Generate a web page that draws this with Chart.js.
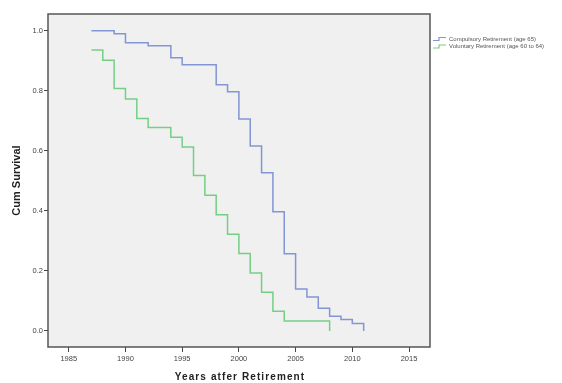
<!DOCTYPE html>
<html>
<head>
<meta charset="utf-8">
<script src="https://cdn.jsdelivr.net/npm/chart.js@4"></script>
<style>
  body { margin: 0; background: #fff; }
  #wrap { width: 562px; height: 383px; }
</style>
</head>
<body>
<div id="wrap"><canvas id="survChart" width="562" height="383"></canvas></div>
<script>
const compYears = [1987, 1989, 1990, 1992, 1994, 1995, 1998, 1999, 2000, 2001, 2002, 2003, 2004, 2005, 2006, 2007, 2008, 2009, 2010, 2011];
const compSurv = [1.0, 0.99, 0.96, 0.95, 0.91, 0.887, 0.82, 0.797, 0.706, 0.616, 0.527, 0.397, 0.257, 0.14, 0.113, 0.076, 0.049, 0.038, 0.025, 0.0];
const volYears = [1987, 1988, 1989, 1990, 1991, 1992, 1994, 1995, 1996, 1997, 1998, 1999, 2000, 2001, 2002, 2003, 2004, 2008];
const volSurv = [0.936, 0.902, 0.808, 0.773, 0.708, 0.678, 0.645, 0.613, 0.518, 0.452, 0.387, 0.322, 0.258, 0.193, 0.129, 0.066, 0.033, 0.0];
const xTicks = [1985, 1990, 1995, 2000, 2005, 2010, 2015];
const yTicks = [0.0, 0.2, 0.4, 0.6, 0.8, 1.0];
const seriesNames = ["Compulsory Retirement (age 65)", "Voluntary Retirement (age 60 to 64)"];
const xTitle = "Years atfer Retirement";

const BLUE = "#8295d4";
const GREEN = "#74cf85";

function toPoints(xs, ys) {
  return xs.map((x, i) => ({ x: x, y: ys[i] }));
}

// grey plot box + frame, like the SPSS output
const plotBox = {
  id: "plotBox",
  beforeDraw(chart) {
    const { ctx, chartArea: a } = chart;
    ctx.save();
    ctx.fillStyle = "#fff";
    ctx.fillRect(0, 0, chart.width, chart.height);
    ctx.fillStyle = "#f0f0f0";
    ctx.fillRect(a.left, a.top, a.right - a.left, a.bottom - a.top);
    ctx.restore();
  },
  afterDraw(chart) {
    const { ctx, chartArea: a } = chart;
    ctx.save();
    ctx.strokeStyle = "#555";
    ctx.lineWidth = 1.5;
    ctx.strokeRect(a.left, a.top, a.right - a.left, a.bottom - a.top);

    // legend with little step icons
    const colors = [BLUE, GREEN];
    ctx.font = "6px 'Liberation Sans', Arial, sans-serif";
    ctx.textBaseline = "middle";
    ctx.textAlign = "left";
    seriesNames.forEach((name, i) => {
      const y = 39 + i * 7.5;
      ctx.strokeStyle = colors[i];
      ctx.lineWidth = 1.2;
      ctx.beginPath();
      ctx.moveTo(433, y + 1.5);
      ctx.lineTo(439, y + 1.5);
      ctx.lineTo(439, y - 1.5);
      ctx.lineTo(446, y - 1.5);
      ctx.stroke();
      ctx.fillStyle = "#555";
      ctx.fillText(name, 449, y);
    });

    // x axis title, spaced out as in the original
    ctx.font = "bold 10px 'Liberation Sans', Arial, sans-serif";
    ctx.letterSpacing = "1.1px";
    ctx.fillStyle = "#222";
    ctx.textAlign = "center";
    ctx.textBaseline = "alphabetic";
    ctx.fillText(xTitle, (a.left + a.right) / 2 + 1, 379.5);
    ctx.restore();
  }
};

const ctx = document.getElementById("survChart").getContext("2d");
new Chart(ctx, {
  type: "line",
  data: {
    datasets: [
      {
        label: seriesNames[0],
        data: toPoints(compYears, compSurv),
        borderColor: BLUE,
        borderWidth: 1.5,
        stepped: true,
        pointRadius: 0,
        fill: false
      },
      {
        label: seriesNames[1],
        data: toPoints(volYears, volSurv),
        borderColor: GREEN,
        borderWidth: 1.5,
        stepped: true,
        pointRadius: 0,
        fill: false
      }
    ]
  },
  options: {
    responsive: false,
    animation: false,
    layout: { padding: { top: 14, right: 132, left: 0, bottom: 0 } },
    plugins: {
      legend: { display: false },
      tooltip: { enabled: false }
    },
    scales: {
      x: {
        type: "linear",
        min: 1983.17,
        max: 2016.85,
        afterFit(scale) { scale.height = 36; },
        afterBuildTicks(scale) { scale.ticks = xTicks.map(v => ({ value: v })); },
        border: { display: false },
        grid: { drawOnChartArea: false, drawTicks: true, tickLength: 5, tickColor: "#444", tickWidth: 1 },
        ticks: {
          padding: 2,
          color: "#444",
          font: { size: 7.5, family: "'Liberation Sans', Arial, sans-serif" },
          maxRotation: 0,
          callback: v => String(v)
        },
        title: { display: false }
      },
      y: {
        type: "linear",
        min: -0.0533,
        max: 1.0557,
        afterFit(scale) { scale.width = 48; },
        afterBuildTicks(scale) { scale.ticks = yTicks.map(v => ({ value: v })); },
        border: { display: false },
        grid: { drawOnChartArea: false, drawTicks: true, tickLength: 4, tickColor: "#444", tickWidth: 1 },
        ticks: {
          padding: 1,
          color: "#444",
          font: { size: 7.5, family: "'Liberation Sans', Arial, sans-serif" },
          callback: v => v.toFixed(1)
        },
        title: {
          display: true,
          text: "Cum Survival",
          color: "#222",
          font: { size: 11, weight: "bold", family: "'Liberation Sans', Arial, sans-serif" },
          padding: { top: 10, bottom: 0 }
        }
      }
    }
  },
  plugins: [plotBox]
});
</script>
</body>
</html>
